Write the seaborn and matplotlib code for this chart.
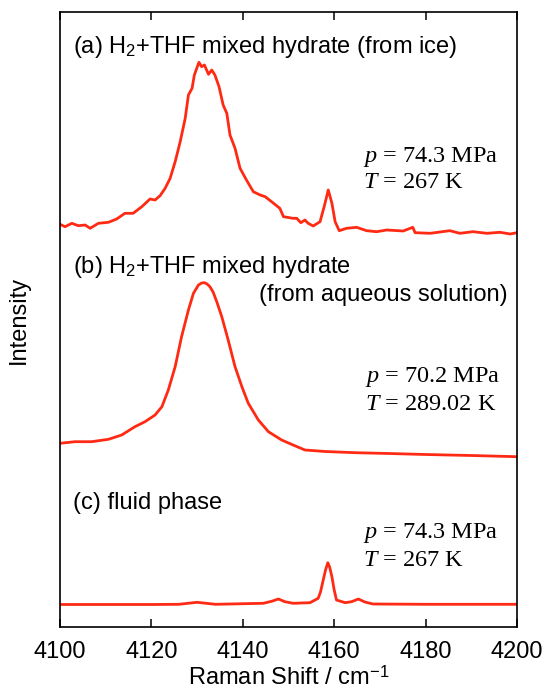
import matplotlib
matplotlib.use("Agg")
import matplotlib.pyplot as plt
import seaborn as sns
import pandas as pd

# ---- data (Raman shift in cm^-1, intensity in arbitrary plotted units, spectra stacked) ----
a_x = [4100.0, 4101.1, 4102.6, 4104.0, 4105.5, 4106.6, 4108.4, 4110.6, 4112.4, 4114.2,
       4116.0, 4117.9, 4119.7, 4120.8, 4121.9, 4123.0, 4124.1, 4125.2, 4126.3, 4127.4,
       4128.1, 4128.9, 4129.4, 4130.4, 4131.0, 4131.6, 4132.5, 4133.2, 4133.9, 4134.8,
       4135.7, 4136.5, 4137.2, 4138.3, 4139.4, 4140.8, 4142.3, 4143.8, 4144.9, 4146.3,
       4148.1, 4148.9, 4151.0, 4151.8, 4152.7, 4153.6, 4154.3, 4155.4, 4156.9, 4157.8,
       4158.7, 4159.5, 4160.2, 4161.1, 4162.7, 4164.9, 4167.1, 4169.3, 4171.5, 4175.1,
       4177.2, 4177.7, 4181.0, 4185.3, 4187.5, 4190.4, 4193.4, 4196.3, 4198.5, 4200.0]
a_y = [402.7, 400.3, 403.7, 401.3, 402.0, 398.7, 403.7, 404.7, 408.0, 413.7,
       413.7, 420.3, 428.0, 427.0, 431.3, 438.7, 448.7, 465.3, 485.3, 508.7,
       532.0, 538.7, 552.0, 564.7, 560.3, 562.0, 552.7, 557.0, 552.0, 540.3,
       522.0, 513.7, 492.0, 478.7, 458.7, 447.0, 435.3, 432.0, 430.3, 425.3,
       418.7, 410.3, 408.7, 408.7, 404.3, 407.0, 403.7, 401.0, 405.3, 420.3,
       437.0, 423.7, 405.3, 396.3, 398.7, 399.7, 396.3, 395.3, 397.0, 396.0,
       399.7, 394.3, 393.7, 396.3, 393.7, 395.3, 393.7, 394.7, 393.0, 394.3]

b_x = [4100.0, 4103.3, 4106.9, 4110.6, 4113.5, 4116.4, 4118.6, 4120.8, 4122.3, 4123.7,
       4125.2, 4126.6, 4128.1, 4129.2, 4130.3, 4131.0, 4131.6, 4132.2, 4132.8, 4133.5,
       4134.3, 4135.4, 4136.8, 4138.3, 4139.8, 4141.2, 4143.4, 4145.6, 4148.5, 4151.0,
       4153.6, 4158.0, 4164.6, 4172.0, 4180.0, 4190.0, 4200.0]
b_y = [183.7, 185.3, 185.3, 187.7, 192.0, 200.3, 205.3, 212.0, 220.3, 237.0,
       260.3, 290.3, 317.0, 333.7, 342.0, 344.0, 344.3, 343.0, 340.3, 335.0,
       325.3, 310.3, 287.0, 260.3, 240.3, 223.7, 207.0, 195.3, 187.0, 182.0,
       177.0, 175.5, 174.3, 173.5, 172.5, 171.5, 170.3]

c_x = [4100.0, 4120.0, 4126.0, 4128.0, 4130.0, 4132.0, 4134.0, 4144.5, 4146.3, 4147.8,
       4149.2, 4151.0, 4154.7, 4156.5, 4157.0, 4157.6, 4158.1, 4158.6, 4159.0, 4159.5,
       4160.0, 4160.5, 4162.4, 4163.8, 4165.3, 4166.7, 4168.5, 4180.0, 4200.0]
c_y = [22.5, 22.5, 22.7, 23.7, 24.7, 23.7, 22.7, 23.7, 25.7, 28.0,
       25.3, 23.7, 24.3, 28.7, 35.0, 47.0, 57.0, 64.3, 60.0, 50.3,
       37.0, 27.0, 24.3, 25.3, 28.0, 25.0, 23.0, 22.7, 22.7]

x_ticks = [4100, 4120, 4140, 4160, 4180, 4200]

# ---- style ----
sns.set_theme(style="ticks")
plt.rcParams['font.family'] = ['Liberation Sans', 'DejaVu Sans']
plt.rcParams['text.color'] = 'black'
plt.rcParams['axes.labelcolor'] = 'black'
plt.rcParams['xtick.color'] = 'black'
plt.rcParams['mathtext.fontset'] = 'custom'
plt.rcParams['mathtext.sf'] = 'Liberation Sans'
plt.rcParams['mathtext.rm'] = 'Liberation Serif'
plt.rcParams['mathtext.it'] = 'Liberation Serif:italic'

LINE = '#ff2a14'
FS = 17

fig = plt.figure(figsize=(5.5, 6.91), dpi=100)
ax = fig.add_axes([60/550, 1-627/691, (517-60)/550, (627-12)/691])

for xs, ys in [(a_x, a_y), (b_x, b_y), (c_x, c_y)]:
    df = pd.DataFrame({'x': xs, 'y': ys})
    sns.lineplot(data=df, x='x', y='y', ax=ax, color=LINE, lw=2.0,
                 estimator=None, sort=False, legend=False)

ax.set_xlim(4100, 4200)
ax.set_ylim(0, 615)
ax.set_xticks(x_ticks)
ax.set_xticklabels([str(t) for t in x_ticks], fontsize=FS, color='black')
ax.set_yticks([])
ax.tick_params(axis='x', direction='in', length=6, width=1.1, top=True, bottom=True,
               pad=10, colors='black')
for s in ax.spines.values():
    s.set_linewidth(1.2)
    s.set_color('black')
    s.set_visible(True)

ax.set_xlabel(r'Raman Shift / cm$^{\mathsf{-1}}$', fontsize=FS, labelpad=2, color='black')
ax.set_ylabel('Intensity', fontsize=FS, labelpad=22, color='black')


def px(x, y, s, **kw):
    fig.text(x/550, 1-y/691, s, va='center', color='black', **kw)


px(73, 47, r'(a) H$_{\mathsf{2}}$+THF mixed hydrate (from ice)', fontsize=FS)
px(73, 267, r'(b) H$_{\mathsf{2}}$+THF mixed hydrate', fontsize=FS)
px(508, 295, '(from aqueous solution)', fontsize=FS, ha='right')
px(73, 503, '(c) fluid phase', fontsize=FS)

serif = dict(fontsize=FS + 0.5, family='Liberation Serif')
px(363, 157, r'$p$ = 74.3 MPa', **serif)
px(363, 183, r'$T$ = 267 K', **serif)
px(365, 377, r'$p$ = 70.2 MPa', **serif)
px(365, 405, r'$T$ = 289.02 K', **serif)
px(363, 533, r'$p$ = 74.3 MPa', **serif)
px(363, 560, r'$T$ = 267 K', **serif)

fig.savefig('out.png', dpi=100, facecolor='white')
